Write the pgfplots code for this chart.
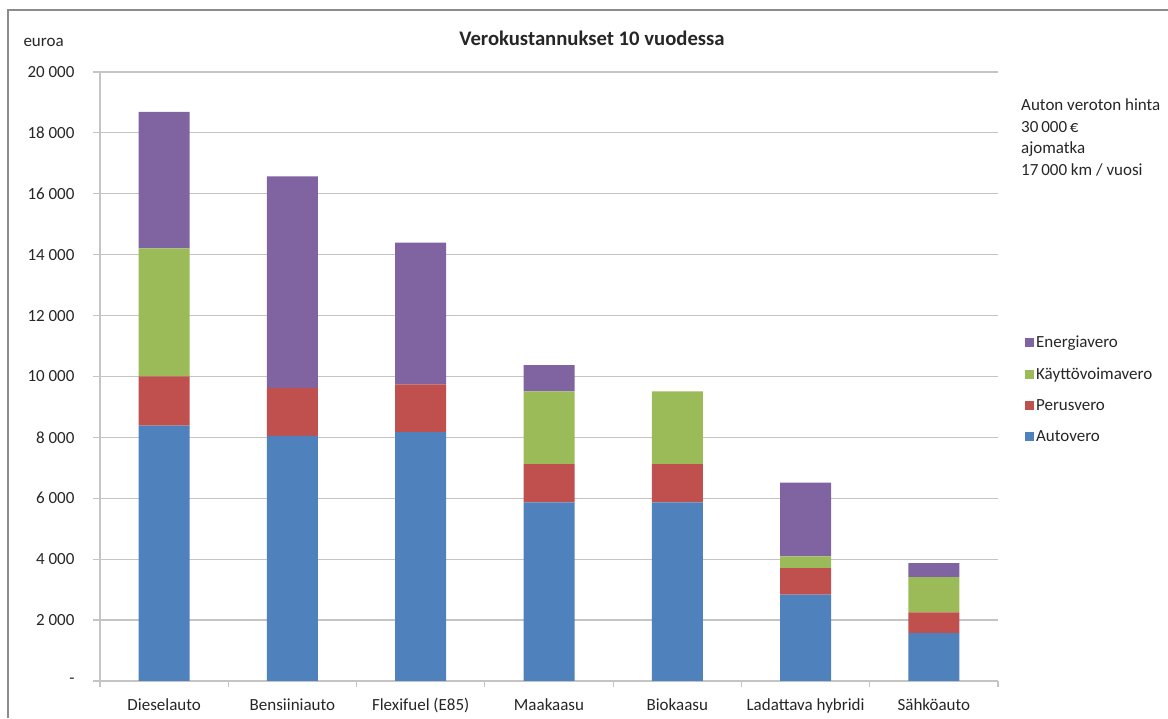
\documentclass[border=0pt]{standalone}
\usepackage{pgfplots}
\pgfplotsset{compat=1.18}
\usepackage{fontspec}
\setmainfont{Carlito}
\definecolor{cBlue}{HTML}{4F81BD}
\definecolor{cRed}{HTML}{C0504D}
\definecolor{cGreen}{HTML}{9BBB59}
\definecolor{cPurple}{HTML}{8064A2}
\definecolor{cGrid}{HTML}{C4C4C4}
\definecolor{cFrame}{HTML}{8C8C8C}
\definecolor{cText}{HTML}{262626}
\newcommand{\f}{\fontsize{17}{21.5}\selectfont}
\begin{document}
\begin{tikzpicture}[x=1pt,y=1pt]
\useasboundingbox (0,0) rectangle (1168,718);
\draw[cFrame, line width=1.3pt] (8,0) -- (8,708) -- (1168,708);
\node[font=\fontsize{20.7}{24}\selectfont\bfseries, text=cText] at (592,680) {Verokustannukset 10 vuodessa};
\node[font=\f, text=cText, anchor=west] at (20,676) {euroa};
\node[font=\f, text=cText, anchor=north west, align=left, inner sep=0pt] at (1021,619) {Auton veroton hinta\\30\,000\,€\\ajomatka\\17\,000 km / vuosi};
\begin{axis}[
  at={(100pt,37pt)}, anchor=south west,
  scale only axis, width=898pt, height=609pt,
  ybar stacked, bar width=51pt,
  xmin=-0.5, xmax=6.5, ymin=0, ymax=20000,
  scaled y ticks=false,
  axis lines=left, axis line style={-, draw=cGrid, line width=1.2pt},
  xtick={0,1,2,3,4,5,6},
  xticklabels={Dieselauto, Bensiiniauto, Flexifuel (E85), Maakaasu, Biokaasu, Ladattava hybridi, Sähköauto},
  minor xtick={-0.5,0.5,1.5,2.5,3.5,4.5,5.5,6.5},
  x tick style={draw=none},
  minor x tick style={draw=cGrid, line width=1.2pt},
  minor tick length=6pt,
  major tick length=7pt,
  tick align=outside,
  ytick={0,2000,...,20000},
  yticklabels={-\hspace{8pt},2\ 000,4\ 000,6\ 000,8\ 000,10\ 000,12\ 000,14\ 000,16\ 000,18\ 000,20\ 000},
  y tick style={draw=cGrid, line width=1.2pt},
  ymajorgrids, grid style={draw=cGrid, line width=1.2pt},
  ticklabel style={font=\f, text=cText},
  yticklabel style={xshift=-15pt},
  xticklabel style={yshift=-7pt},
  reverse legend,
  legend style={at={(1.03,0.570)}, anchor=north west, draw=none, fill=none, font=\f, text=cText, row sep=14.5pt, inner sep=0pt},
  legend cell align=left,
  legend image code/.code={\path[#1,draw=none] (0pt,-4.5pt) rectangle (9pt,4.5pt);},
]
\addplot[fill=cBlue, draw=none] coordinates {(0,8390) (1,8050) (2,8170) (3,5865) (4,5865) (5,2835) (6,1575)};
\addplot[fill=cRed, draw=none] coordinates {(0,1610) (1,1580) (2,1570) (3,1255) (4,1255) (5,875) (6,680)};
\addplot[fill=cGreen, draw=none] coordinates {(0,4210) (1,0) (2,0) (3,2395) (4,2390) (5,385) (6,1160)};
\addplot[fill=cPurple, draw=none] coordinates {(0,4480) (1,6940) (2,4660) (3,855) (4,0) (5,2420) (6,460)};
\legend{Autovero, Perusvero, Käyttövoimavero, Energiavero}
\end{axis}
\end{tikzpicture}
\end{document}
